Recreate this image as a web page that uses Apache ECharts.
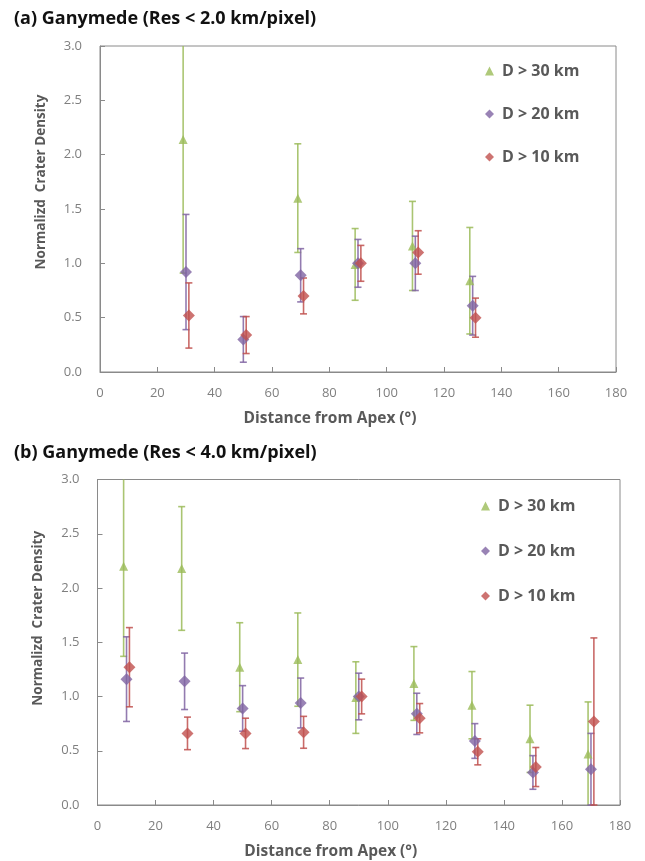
<!DOCTYPE html>
<html>
<head>
<meta charset="utf-8">
<script src="https://cdn.jsdelivr.net/npm/echarts@6/dist/echarts.min.js"></script>
<style>
html,body{margin:0;padding:0;background:#fff;}
#chart{width:645px;height:861px;}
</style>
</head>
<body>
<div id="chart"></div>
<script>
// ---- Data ----
const seriesNames = ['D > 30 km', 'D > 20 km', 'D > 10 km'];
const xTicks = [0, 20, 40, 60, 80, 100, 120, 140, 160, 180];
const yTicks = [0.0, 0.5, 1.0, 1.5, 2.0, 2.5, 3.0];

// Panel (a): Res < 2.0 km/pixel
const a30x = [29, 69, 89, 109, 129];
const a30y = [2.14, 1.60, 0.99, 1.16, 0.84];
const a30e = [1.23, 0.50, 0.33, 0.41, 0.49];
const a20x = [30, 50, 70, 90, 110, 130];
const a20y = [0.92, 0.30, 0.89, 1.00, 1.00, 0.61];
const a20e = [0.53, 0.21, 0.245, 0.22, 0.25, 0.27];
const a10x = [31, 51, 71, 91, 111, 131];
const a10y = [0.52, 0.34, 0.70, 1.00, 1.10, 0.50];
const a10e = [0.30, 0.17, 0.165, 0.165, 0.20, 0.18];

// Panel (b): Res < 4.0 km/pixel
const b30x = [9, 29, 49, 69, 89, 109, 129, 149, 169];
const b30y = [2.20, 2.18, 1.27, 1.34, 0.99, 1.12, 0.92, 0.61, 0.47];
const b30e = [0.83, 0.57, 0.41, 0.43, 0.33, 0.34, 0.31, 0.31, 0.48];
const b20x = [10, 30, 50, 70, 90, 110, 130, 150, 170];
const b20y = [1.16, 1.14, 0.89, 0.94, 1.00, 0.84, 0.59, 0.30, 0.33];
const b20e = [0.39, 0.26, 0.21, 0.23, 0.215, 0.19, 0.16, 0.155, 0.33];
const b10x = [11, 31, 51, 71, 91, 111, 131, 151, 171];
const b10y = [1.27, 0.66, 0.66, 0.67, 1.00, 0.80, 0.49, 0.35, 0.77];
const b10e = [0.365, 0.15, 0.14, 0.147, 0.16, 0.135, 0.12, 0.18, 0.77];

const colors = ['#9BBB59', '#8064A2', '#C0504D'];
const symbols = ['triangle', 'diamond', 'diamond'];
const symSizes = [9, 12, 12];

const FONT = 'Open Sans';
const axisGray = '#8a8a8a';
const labelGray = '#7f7f7f';
const nameGray = '#595959';

function errSeries(gi, xs, ys, es, color) {
  return {
    type: 'custom',
    xAxisIndex: gi, yAxisIndex: gi,
    silent: true, z: 1,
    encode: { x: 0, y: [1, 2] },
    data: xs.map((x, i) => [x, ys[i] - es[i], ys[i] + es[i]]),
    renderItem: function (params, api) {
      const x = api.value(0), lo = api.value(1), hi = api.value(2);
      const pLo = api.coord([x, lo]), pHi = api.coord([x, hi]);
      const cs = params.coordSys;
      const top = cs.y, bot = cs.y + cs.height;
      const y1 = Math.max(pHi[1], top), y2 = Math.min(pLo[1], bot);
      const st = { stroke: color, lineWidth: 1.6, opacity: 0.85 };
      const ch = [{ type: 'line', shape: { x1: pHi[0], y1: y1, x2: pHi[0], y2: y2 }, style: st }];
      const hw = 3.5;
      if (pHi[1] >= top) ch.push({ type: 'line', shape: { x1: pHi[0] - hw, y1: pHi[1], x2: pHi[0] + hw, y2: pHi[1] }, style: st });
      if (pLo[1] <= bot) ch.push({ type: 'line', shape: { x1: pLo[0] - hw, y1: pLo[1], x2: pLo[0] + hw, y2: pLo[1] }, style: st });
      return { type: 'group', children: ch };
    }
  };
}

function ptSeries(gi, k, xs, ys) {
  return {
    type: 'scatter', name: seriesNames[k],
    xAxisIndex: gi, yAxisIndex: gi, z: 3,
    symbol: symbols[k], symbolSize: symSizes[k],
    itemStyle: { color: colors[k] },
    data: xs.map((x, i) => [x, ys[i]])
  };
}

const grids = [
  { left: 100, top: 46, width: 516, height: 326 },
  { left: 97.5, top: 479.5, width: 522.5, height: 328 }
];

function xAx(gi) {
  return {
    gridIndex: gi, type: 'value', min: xTicks[0], max: xTicks[xTicks.length - 1], interval: 20,
    name: 'Distance from Apex (°)', nameLocation: 'middle', nameGap: 39,
    nameTextStyle: { fontFamily: FONT, fontWeight: 'bold', fontSize: 15.5, color: nameGray, padding: [0, 56, 0, 0] },
    axisLine: { show: true, lineStyle: { color: axisGray } },
    axisTick: { show: true, inside: true, length: 5, lineStyle: { color: axisGray } },
    axisLabel: { fontFamily: FONT, fontSize: 13, color: labelGray, margin: 15 },
    splitLine: { show: false }
  };
}
function yAx(gi, pad) {
  return {
    gridIndex: gi, type: 'value', min: yTicks[0], max: yTicks[yTicks.length - 1], interval: 0.5,
    name: 'Normalizd  Crater Density', nameLocation: 'middle', nameGap: gi === 0 ? 52 : 52,
    nameTextStyle: { fontFamily: FONT, fontWeight: 'bold', fontSize: 13.5, color: nameGray, padding: [0, 0, 0, pad] },
    axisLine: { show: true, lineStyle: { color: axisGray } },
    axisTick: { show: true, inside: true, length: 5, lineStyle: { color: axisGray } },
    axisLabel: { fontFamily: FONT, fontSize: 13, color: labelGray, margin: 18, formatter: v => v.toFixed(1) },
    splitLine: { show: false }
  };
}

const series = [
  errSeries(0, a30x, a30y, a30e, colors[0]),
  errSeries(0, a20x, a20y, a20e, colors[1]),
  errSeries(0, a10x, a10y, a10e, colors[2]),
  ptSeries(0, 0, a30x, a30y),
  ptSeries(0, 1, a20x, a20y),
  ptSeries(0, 2, a10x, a10y),
  errSeries(1, b30x, b30y, b30e, colors[0]),
  errSeries(1, b20x, b20y, b20e, colors[1]),
  errSeries(1, b10x, b10y, b10e, colors[2]),
  ptSeries(1, 0, b30x, b30y),
  ptSeries(1, 1, b20x, b20y),
  ptSeries(1, 2, b10x, b10y)
];

const legendBase = {
  orient: 'vertical', data: seriesNames, itemWidth: 9, itemHeight: 9, itemGap: 27,
  selectedMode: false,
  textStyle: { fontFamily: FONT, fontWeight: 'bold', fontSize: 16, color: nameGray, padding: [0, 0, 0, 3] }
};

const chart = echarts.init(document.getElementById('chart'), null, { renderer: 'canvas' });
chart.setOption({
  animation: false,
  backgroundColor: '#ffffff',
  title: [
    { text: '(a) Ganymede (Res < 2.0 km/pixel)', left: 9, top: 5, textStyle: { fontFamily: FONT, fontWeight: 'bold', fontSize: 18, color: '#111' } },
    { text: '(b) Ganymede (Res < 4.0 km/pixel)', left: 9, top: 439, textStyle: { fontFamily: FONT, fontWeight: 'bold', fontSize: 18, color: '#111' } }
  ],
  legend: [
    Object.assign({}, legendBase, { left: 480, top: 58 }),
    Object.assign({}, legendBase, { left: 476, top: 493, itemGap: 29 })
  ],
  grid: grids.map(g => Object.assign({ show: true, borderColor: axisGray, borderWidth: 1, containLabel: false }, g)),
  xAxis: [xAx(0), xAx(1)],
  yAxis: [yAx(0, 54), yAx(1, 48)],
  series: series
});
</script>
</body>
</html>
